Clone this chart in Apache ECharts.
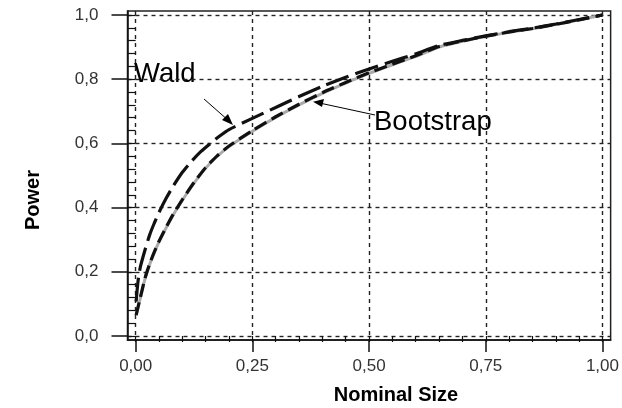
<!DOCTYPE html>
<html>
<head>
<meta charset="utf-8">
<script src="https://cdn.jsdelivr.net/npm/echarts@6/dist/echarts.min.js"></script>
<style>
html,body{margin:0;padding:0;background:#fff;}
#c{width:622px;height:408px;}
</style>
</head>
<body>
<div id="c"></div>
<script>
// ---- data ----
const xTicks = [0, 0.25, 0.5, 0.75, 1.0];
const yTicks = [0, 0.2, 0.4, 0.6, 0.8, 1.0];
const xMinorTicks = [0,0.05,0.1,0.15,0.2,0.25,0.3,0.35,0.4,0.45,0.5,0.55,0.6,0.65,0.7,0.75,0.8,0.85,0.9,0.95,1.0];
const yMinorTicks = [0,0.04,0.08,0.12,0.16,0.2,0.24,0.28,0.32,0.36,0.4,0.44,0.48,0.52,0.56,0.6,0.64,0.68,0.72,0.76,0.8,0.84,0.88,0.92,0.96,1.0];

const waldX = [0.001,0.005,0.01,0.02,0.03,0.04,0.05,0.065,0.08,0.10,0.12,0.14,0.16,0.18,0.20,0.25,0.30,0.35,0.40,0.45,0.50,0.55,0.60,0.65,0.70,0.75,0.80,0.85,0.90,0.95,1.0];
const waldY = [0.107,0.17,0.215,0.268,0.315,0.352,0.385,0.428,0.466,0.51,0.545,0.575,0.600,0.623,0.643,0.678,0.712,0.746,0.778,0.806,0.832,0.856,0.879,0.905,0.921,0.935,0.948,0.959,0.972,0.986,1.0];

const bootX = [0.001,0.005,0.01,0.02,0.03,0.04,0.05,0.065,0.08,0.10,0.125,0.15,0.175,0.20,0.25,0.30,0.35,0.40,0.45,0.50,0.55,0.60,0.65,0.70,0.75,0.80,0.85,0.90,0.95,1.0];
const bootY = [0.065,0.09,0.12,0.18,0.225,0.262,0.295,0.338,0.378,0.425,0.478,0.525,0.562,0.592,0.64,0.683,0.722,0.758,0.79,0.82,0.847,0.873,0.902,0.919,0.934,0.947,0.958,0.971,0.985,1.0];

const exactX = bootX;
const exactY = [0.065,0.088,0.118,0.178,0.223,0.26,0.293,0.336,0.376,0.423,0.476,0.523,0.56,0.59,0.638,0.681,0.72,0.756,0.788,0.818,0.845,0.871,0.9,0.918,0.933,0.946,0.957,0.97,0.985,1.0];

const xTitle = 'Nominal Size';
const yTitle = 'Power';

// ---- chart ----
const pair = (xs, ys) => xs.map((x, i) => [x, ys[i]]);
const FONT = '"Liberation Sans", Arial, sans-serif';
const chart = echarts.init(document.getElementById('c'), null, {renderer: 'canvas'});

const fmtX = v => (Math.round(v * 100) / 100).toFixed(2).replace('.', ',');
const fmtY = v => (Math.round(v * 10) / 10).toFixed(1).replace('.', ',');

const option = {
  animation: false,
  backgroundColor: '#fff',
  grid: {left: 127.5, right: 5, top: 11, bottom: 68, show: true, borderColor: '#222', borderWidth: 1.5, containLabel: false},
  xAxis: [
    {
      type: 'value', min: -0.0175, max: 1.0175, position: 'bottom',
      axisLine: {show: true, onZero: false, lineStyle: {color: '#111', width: 1.5}},
      axisTick: {show: true, customValues: xTicks, length: 12, lineStyle: {color: '#111', width: 1.5}},
      axisLabel: {show: true, customValues: xTicks, formatter: fmtX, margin: 18, color: '#333', fontSize: 17, fontFamily: FONT},
      splitLine: {show: true, lineStyle: {color: '#222', width: 1.4, type: [4, 4]}}
    },
    {
      type: 'value', min: -0.0175, max: 1.0175, position: 'bottom', offset: 0,
      axisLine: {show: false},
      axisTick: {show: true, customValues: xMinorTicks, length: 6, lineStyle: {color: '#111', width: 1.2}},
      axisLabel: {show: false},
      splitLine: {show: false}
    }
  ],
  yAxis: [
    {
      type: 'value', min: -0.0125, max: 1.0125, position: 'left',
      axisLine: {show: true, onZero: false, lineStyle: {color: '#111', width: 1.5}},
      axisTick: {show: true, customValues: yTicks, length: 16, lineStyle: {color: '#111', width: 1.5}},
      axisLabel: {show: true, customValues: yTicks, formatter: fmtY, margin: 29, color: '#333', fontSize: 17, fontFamily: FONT},
      splitLine: {show: true, lineStyle: {color: '#222', width: 1.4, type: [4, 4]}}
    },
    {
      type: 'value', min: -0.0125, max: 1.0125, position: 'left', offset: 0,
      axisLine: {show: false},
      axisTick: {show: true, customValues: yMinorTicks, length: 8, lineStyle: {color: '#111', width: 1.2}},
      axisLabel: {show: false},
      splitLine: {show: false}
    }
  ],
  series: [
    {
      name: 'Exact', type: 'line', data: pair(exactX, exactY), showSymbol: false, smooth: 0.2,
      lineStyle: {color: '#aaaaaa', width: 3}, z: 2
    },
    {
      name: 'Bootstrap', type: 'line', data: pair(bootX, bootY), showSymbol: false, smooth: 0.2,
      lineStyle: {color: '#111', width: 3.2, type: [13, 6]}, z: 3
    },
    {
      name: 'Wald', type: 'line', data: pair(waldX, waldY), showSymbol: false, smooth: 0.2,
      lineStyle: {color: '#111', width: 3.2, type: [24, 7]}, z: 3
    }
  ],
  graphic: [
    {type: 'text', x: 396, y: 395, style: {text: xTitle, font: 'bold 20px ' + FONT, fill: '#000', align: 'center', verticalAlign: 'middle'}},
    {type: 'text', x: 33, y: 200, rotation: Math.PI / 2, style: {text: yTitle, font: 'bold 20px ' + FONT, fill: '#000', align: 'center', verticalAlign: 'middle'}},
    {type: 'text', x: 134, y: 74, style: {text: 'Wald', font: 'normal 27.5px ' + FONT, fill: '#000', align: 'left', verticalAlign: 'middle'}},
    {type: 'text', x: 374, y: 122, style: {text: 'Bootstrap', font: 'normal 27.5px ' + FONT, fill: '#000', align: 'left', verticalAlign: 'middle'}},
    {type: 'line', shape: {x1: 204, y1: 99, x2: 229, y2: 121}, style: {stroke: '#000', lineWidth: 1}},
    {type: 'polygon', shape: {points: [[233, 125], [222, 120], [228, 114]]}, style: {fill: '#000'}},
    {type: 'line', shape: {x1: 375, y1: 115, x2: 318, y2: 102.7}, style: {stroke: '#000', lineWidth: 1}},
    {type: 'polygon', shape: {points: [[313, 101.7], [324, 99], [322, 107]]}, style: {fill: '#000'}}
  ]
};
chart.setOption(option);
</script>
</body>
</html>
